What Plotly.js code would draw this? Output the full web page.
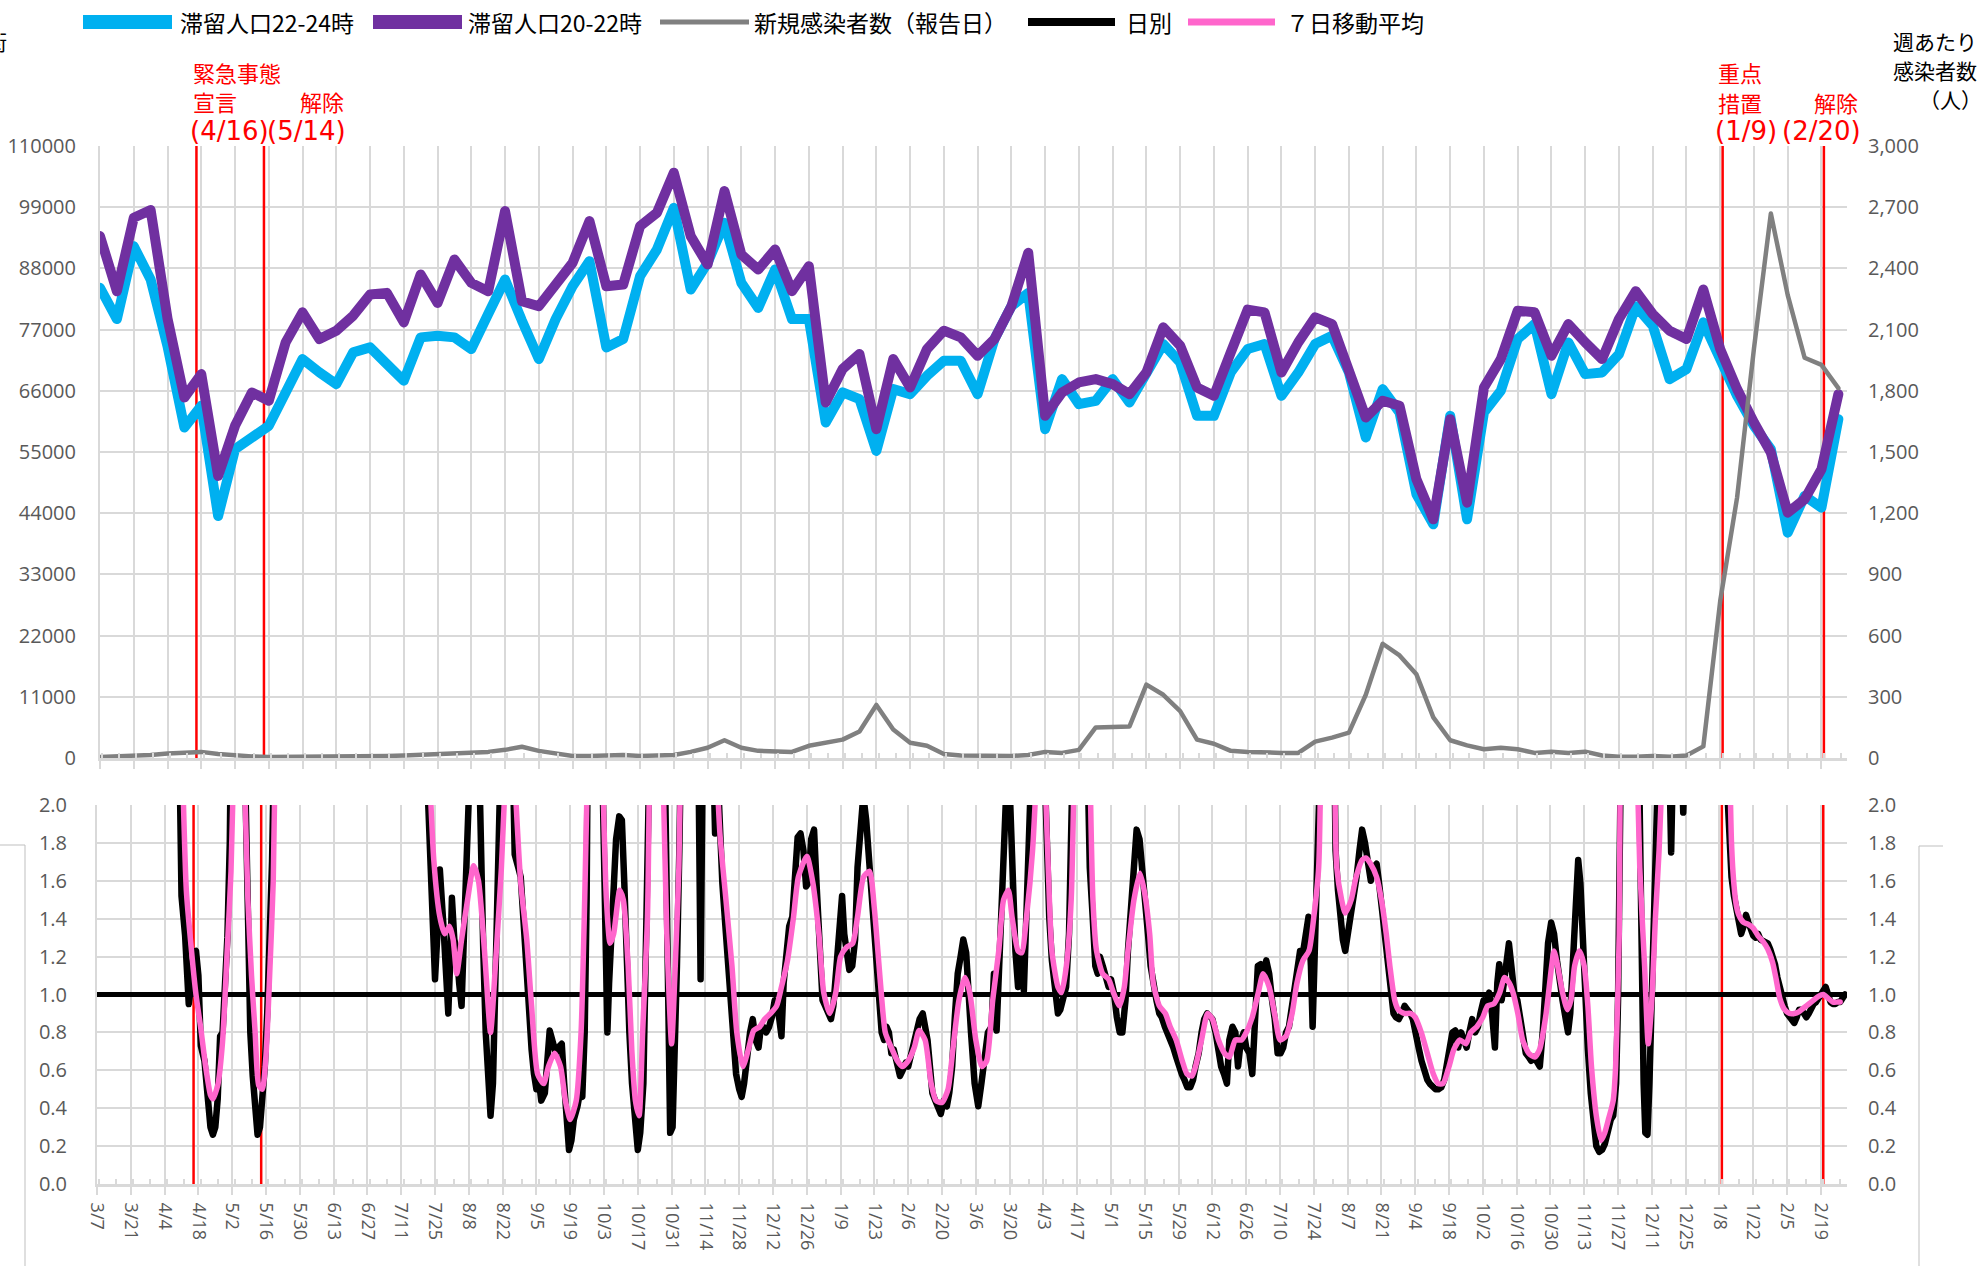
<!DOCTYPE html>
<html>
<head>
<meta charset="utf-8">
<script src="https://cdn.plot.ly/plotly-3.0.1.min.js"></script>
<style>
html,body{margin:0;padding:0;background:#fff;}
#chart{width:1987px;height:1266px;}
.js-line{stroke-linejoin:round !important;stroke-linecap:round !important;}
</style>
</head>
<body>
<div id="chart"></div>
<script>
// ---------------- DATA ----------------
const weekStart = '2020-03-07';  // first weekly point; daily offsets are counted from this day too

// 滞留人口22-24時 (weekly)
const stay2224 = [
84500,78900,92000,86000,74000,59400,63300,43500,55500,57600,
59700,65700,71700,69300,67200,72900,73800,70800,67800,75600,
75900,75600,73500,79800,86000,78600,71700,78900,84800,89300,
73800,75300,86600,91400,98900,84200,89000,96200,85400,80900,
87800,78900,78900,60300,65700,64500,55200,66300,65400,68700,
71400,71400,65400,75300,81200,83600,59100,68100,63600,64200,
68100,63900,69300,74400,71100,61500,61500,69300,73500,74400,
65100,69300,74400,75900,69300,57600,66300,62100,47400,42000,
61500,42900,62100,66000,75300,78000,65400,74700,69000,69300,
72600,81200,77700,68100,69900,78300,71700,65100,59700,55500,
40500,47100,45000,60900];

// 滞留人口20-22時 (weekly)
const stay2022 = [
93800,83900,97100,98500,79000,64800,69000,50700,59700,65700,
64200,74700,80100,75300,76800,79500,83300,83600,78300,86900,
81800,89600,85400,83900,98300,82100,81200,84800,89000,96500,
84800,85100,95600,98000,105200,93800,88700,101900,90500,87800,
91400,83900,88400,63900,69900,72600,59100,71700,66600,73500,
76800,75600,72300,75300,81200,90800,61500,65700,67500,68100,
67200,65400,69300,77400,74100,66600,65100,72900,80600,80100,
69300,74700,79200,78000,69300,61200,64200,63300,50100,42900,
60900,45900,66600,71700,80400,80100,72300,78000,74700,71700,
78900,83900,79800,76800,75300,84200,73500,66300,60300,54900,
44100,46500,51900,65400];

// 新規感染者数（報告日）週あたり
const weeklyCases = [
5,8,10,15,22,28,30,20,12,8,
5,5,5,5,5,6,8,10,12,15,
18,20,25,30,40,55,35,20,10,10,
12,15,10,12,15,30,50,87,50,35,
30,30,60,75,90,130,260,140,75,60,
20,12,10,8,10,15,30,25,40,150,
155,155,360,310,230,90,70,35,30,25,
25,25,80,100,124,310,560,503,410,199,
87,62,43,50,43,25,31,25,31,12,
6,6,10,6,12,57,770,1277,2007,2669,
2269,1962,1927,1813];

// 日別 : [days since weekStart, value]  (null = gap, 2.4 = beyond top of axis)
const rDaily = [
[34,2.4],[35,1.52],[36.5,1.31],[37.5,1.0],[38,0.95],[39,1.05],[40,1.22],[41,1.23],[42,1.1],[43,0.73],[44.5,0.65],[46,0.44],[47,0.3],[48,0.26],[49,0.3],[50,0.45],[51,0.78],[52,0.8],[53,1.05],[54,1.3],[55,1.8],[55.5,2.4],[58,null],
[61,2.4],[62.5,1.2],[63.5,0.8],[64.5,0.57],[65.5,0.35],[66.5,0.26],[67.5,0.3],[68.5,0.42],[69.5,0.62],[70.5,0.9],[71.5,1.3],[72.5,1.7],[73.5,2.4],[100,null],
[136,2.4],[138,1.76],[139,1.41],[140,1.08],[141,1.32],[142,1.66],[143.5,1.36],[144.5,1.04],[145.5,0.9],[146.5,1.25],[147,1.51],[148,1.29],[149,1.23],[150,1.06],[151,0.94],[152,1.32],[153,1.59],[154,1.76],[155,2.4],[156.5,null],
[158,2.4],[159,1.67],[160,1.23],[161,0.8],[162,0.53],[163,0.36],[164,0.53],[165,0.97],[166,1.67],[166.5,1.87],[167.5,2.4],[170,null],
[172,2.4],[173,1.74],[174.5,1.67],[175.5,1.62],[177,1.32],[178.5,0.94],[180,0.71],[181,0.58],[182,0.5],[183,0.55],[184,0.44],[185.5,0.48],[186.5,0.65],[187.5,0.81],[189,0.74],[190,0.69],[191,0.72],[192.5,0.74],[193.5,0.53],[194.5,0.32],[195.5,0.18],[196.5,0.23],[197.5,0.34],[199,0.41],[200,0.48],[201,0.46],[202,0.8],[202.8,1.5],[203.3,2.4],[206,null],
[209,2.4],[210,1.67],[210.7,1.06],[211.4,0.8],[212.1,1.06],[213,1.29],[214,1.5],[215,1.82],[216.3,1.94],[217.4,1.92],[218.4,1.59],[219.3,1.15],[220.5,0.8],[221.6,0.53],[222.8,0.34],[224,0.18],[225,0.27],[226.3,0.53],[227.2,1.15],[228,1.67],[229,2.4],[232,null],
[235,2.4],[235.8,1.5],[236.5,0.8],[237.4,0.27],[238.4,0.3],[239.3,0.62],[240.2,1.15],[241.2,1.76],[242,2.4],[245,null],
[249,2.4],[250,1.08],[251,2.4],[253,null],
[255,2.4],[256,1.85],[257,2.2],[258,1.8],[259,1.59],[260.5,1.32],[262,1.06],[263.5,0.8],[264.7,0.58],[266,0.5],[267,0.46],[268,0.53],[269.3,0.69],[270.5,0.8],[271.6,0.87],[272.8,0.76],[274,0.72],[275,0.83],[276,0.83],[277.2,0.8],[278.4,0.83],[279.5,0.88],[280.7,0.97],[281.6,0.94],[282.6,0.87],[283.5,0.78],[284.4,1.06],[285.6,1.23],[286.7,1.36],[288,1.41],[289,1.59],[290.2,1.83],[291.4,1.85],[292.6,1.76],[293.7,1.57],[294.7,1.59],[295.8,1.82],[297,1.87],[298,1.59],[299.3,1.23],[300.5,0.97],[301.6,0.94],[302.8,0.9],[304,0.87],[305,0.94],[306.3,1.15],[307.4,1.41],[308.6,1.52],[309.5,1.32],[310.5,1.2],[311.6,1.13],[312.8,1.15],[314,1.29],[315,1.67],[316.3,1.89],[317.4,2.05],[318.6,1.92],[319.8,1.71],[321,1.5],[322,1.36],[323,1.23],[324,0.97],[325,0.8],[326,0.76],[327,0.83],[328,0.8],[329,0.69],[330,0.71],[331.4,0.62],[332.6,0.57],[333.7,0.6],[335,0.64],[336,0.62],[337.2,0.69],[338.4,0.76],[339.5,0.83],[340.7,0.87],[342,0.9],[343,0.83],[344,0.76],[345,0.62],[346,0.48],[347.2,0.44],[348.4,0.41],[349.5,0.37],[350.7,0.44],[352,0.41],[353,0.48],[354.2,0.62],[355.3,0.88],[356.5,1.11],[357.7,1.2],[358.8,1.29],[360,1.22],[361,1.06],[362,0.8],[363.5,0.53],[365,0.41],[366.3,0.53],[367.7,0.71],[369,0.8],[370.5,0.83],[371.5,1.11],[372.6,0.81],[373.8,1.23],[374.7,1.5],[375.7,1.76],[377,2.2],[378,2.1],[379.2,1.5],[380.4,1.23],[381.5,1.04],[382.7,1.22],[383.9,1.02],[385,1.5],[386.2,1.85],[387.5,2.4],[390,null],
[392,2.4],[393.4,1.67],[394.4,1.41],[395.5,1.18],[396.7,1.01],[398,0.9],[399,0.92],[400.2,0.97],[401.4,1.04],[402.6,1.32],[403.5,1.59],[404.4,2.4],[407,null],
[410,2.4],[411.2,1.67],[412.4,1.41],[413.5,1.15],[414.5,1.11],[415.4,1.2],[416.6,1.15],[417.7,1.11],[419,1.04],[420,1.08],[421.2,1.01],[422.4,0.88],[423.6,0.8],[424.7,0.8],[426,0.97],[427,1.23],[428.3,1.5],[429.4,1.76],[430.6,1.87],[431.8,1.82],[433,1.67],[434,1.53],[435.3,1.32],[436.4,1.15],[437.6,1.04],[438.8,0.97],[440,0.9],[441,0.88],[442.3,0.83],[443.4,0.8],[444.6,0.76],[445.8,0.72],[447,0.67],[448,0.62],[449.3,0.58],[450.4,0.55],[451.6,0.51],[452.8,0.51],[454,0.55],[455,0.62],[456.3,0.69],[457.5,0.8],[458.6,0.87],[459.8,0.9],[461,0.88],[462,0.87],[463.3,0.8],[464.5,0.69],[465.6,0.62],[466.8,0.58],[468,0.53],[469,0.76],[470.3,0.83],[471.5,0.8],[472.6,0.62],[473.8,0.76],[475,0.8],[476,0.72],[477.3,0.69],[478.5,0.58],[479.7,0.88],[480.8,1.15],[482,1.16],[483.2,1.11],[484.3,1.18],[485.5,1.11],[486.7,0.97],[487.8,0.87],[489,0.69],[490.2,0.69],[491.3,0.72],[492.5,0.8],[493.7,0.83],[494.8,0.92],[496,1.01],[497.2,1.15],[498.3,1.23],[499.5,1.22],[500.7,1.32],[501.8,1.41],[502.8,1.15],[503.5,0.83],[504.4,1.23],[505.4,1.59],[506.3,1.85],[507,2.4],[510,null],
[512.4,2.4],[513,1.76],[514,1.55],[515,1.41],[516,1.29],[517,1.23],[518.2,1.32],[519.4,1.41],[520.5,1.5],[521.7,1.62],[522.9,1.76],[524,1.87],[525.2,1.8],[526.4,1.67],[527.6,1.6],[528.7,1.67],[530,1.69],[531,1.59],[532.2,1.45],[533.4,1.29],[534.6,1.15],[535.7,1.01],[537,0.9],[538,0.88],[539.2,0.87],[540.4,0.9],[541.6,0.94],[542.7,0.92],[544,0.9],[545,0.87],[546.2,0.81],[547.4,0.72],[548.6,0.65],[549.8,0.58],[551,0.55],[552,0.53],[553.3,0.51],[554.4,0.5],[555.6,0.5],[556.8,0.51],[558,0.55],[559,0.62],[560.3,0.69],[561.4,0.8],[562.6,0.81],[563.8,0.72],[565,0.8],[566,0.76],[567.3,0.72],[568.4,0.8],[569.6,0.87],[570.8,0.8],[572,0.83],[573,0.9],[574.3,0.97],[575.5,0.94],[576.6,1.01],[577.8,0.9],[579,0.72],[580,1.06],[580.8,1.16],[581.8,0.97],[582.7,1.04],[583.6,1.15],[584.8,1.27],[586,1.11],[587,1.01],[588.3,0.97],[589.5,0.87],[590.6,0.76],[591.8,0.69],[593,0.67],[594,0.65],[595.3,0.67],[596.5,0.64],[597.6,0.62],[598.8,0.8],[600,1.04],[601,1.27],[602.3,1.38],[603.5,1.32],[604.7,1.18],[605.8,1.06],[607,0.97],[608.2,0.88],[609.3,0.8],[610.2,0.9],[611,1.11],[612.3,1.41],[613.5,1.71],[614.4,1.59],[615.4,1.23],[616.3,0.97],[617.5,0.71],[618.7,0.48],[620,0.3],[621,0.2],[622.2,0.17],[623.4,0.18],[624.5,0.21],[625.7,0.28],[627,0.34],[628,0.36],[629.2,0.53],[630,0.97],[630.6,1.5],[631.3,2.4],[635,null],
[638.5,2.4],[639.2,1.5],[640,0.97],[640.6,0.53],[641.3,0.27],[642.2,0.26],[643,0.53],[644,0.97],[645,1.41],[646,1.76],[647,2.4],[649,null],
[651,2.4],[652,1.75],[653,2.4],[655,null],
[656,2.4],[657,1.96],[658,2.4],[665,null],
[674,2.4],[676,1.85],[677,1.62],[678,1.52],[679,1.45],[680,1.38],[681,1.32],[682,1.36],[683,1.42],[684,1.38],[685,1.33],[686,1.31],[687,1.3],[688,1.32],[689,1.29],[690,1.28],[691,1.27],[692,1.27],[693,1.24],[694,1.21],[695,1.16],[696,1.09],[697,1.03],[698,0.98],[699,0.94],[700,0.9],[701,0.88],[702,0.86],[703,0.85],[704,0.88],[705,0.92],[706,0.92],[707,0.9],[708,0.88],[709,0.9],[710,0.93],[711,0.95],[712,0.96],[713,0.98],[714,1.0],[715,1.03],[716,1.04],[717,1.0],[718,0.96],[719,0.95],[720,0.95],[721,0.96],[722,0.96],[723,0.98],[724,1.0]
];

// ７日移動平均 : [days since weekStart, value]
const rAvg7 = [
[35,2.4],[37,1.55],[39,1.25],[41,1.0],[43,0.82],[45,0.62],[47,0.47],[48,0.45],[50,0.52],[52,0.75],[54,1.25],[55.5,1.65],[57,2.4],[58.5,null],
[60.5,2.4],[62.5,1.5],[64,1.1],[65.5,0.8],[67,0.52],[68.5,0.5],[70,0.68],[71.5,1.1],[73,1.6],[74,2.4],[100,null],
[137,2.4],[139.5,1.71],[142,1.41],[144,1.32],[146,1.36],[147.5,1.29],[149,1.11],[151,1.29],[153.5,1.5],[156,1.68],[158,1.6],[160.5,1.23],[163,0.8],[165,1.15],[167.5,1.67],[170,2.4],[171,null],
[172,2.4],[175.5,1.59],[178,1.29],[180,0.94],[182.5,0.58],[185,0.53],[187,0.62],[189.5,0.69],[192,0.62],[194,0.44],[196,0.34],[198.5,0.44],[200.5,0.8],[202,1.5],[203.5,2.4],[206,null],
[209,2.4],[211,1.5],[212.5,1.27],[214,1.32],[216.5,1.55],[218,1.5],[220,1.15],[221.5,0.71],[223,0.44],[224.5,0.36],[226,0.8],[228,1.41],[229,2.4],[231,null],
[234,2.4],[236,1.32],[238,0.74],[239.5,1.15],[241,1.67],[242,2.4],[250,null],
[256,2.4],[258,1.85],[260.5,1.5],[263,1.15],[265,0.8],[267.5,0.62],[270,0.72],[272,0.81],[274.5,0.83],[276.5,0.87],[279,0.9],[281.5,0.94],[283.5,1.04],[286,1.18],[288.5,1.41],[290.5,1.62],[294,1.73],[296.5,1.59],[299,1.32],[301,1.01],[303.5,0.9],[306,1.01],[308,1.2],[310.5,1.25],[313,1.27],[315,1.41],[317.5,1.62],[320,1.65],[322,1.45],[324.5,1.06],[326.5,0.8],[329,0.72],[331.5,0.65],[333.5,0.62],[336,0.65],[338.5,0.72],[340.5,0.81],[343,0.76],[345.5,0.53],[347.5,0.44],[350,0.43],[352.5,0.5],[354.5,0.71],[357,0.97],[359.5,1.09],[361.5,1.01],[364,0.76],[366.5,0.62],[368.5,0.65],[371,0.97],[373.5,1.23],[375.5,1.5],[377.5,1.55],[379,1.41],[381.5,1.23],[383,1.22],[385,1.41],[387.5,1.76],[390,2.4],[391,null],
[392,2.4],[394,1.67],[395.5,1.23],[398,1.04],[399.5,1.01],[401.5,1.15],[403.5,1.5],[405,2.4],[408,null],
[411,2.4],[412.5,1.5],[414,1.23],[416.5,1.11],[419,1.08],[421,1.01],[423.5,0.94],[425.5,1.04],[427,1.23],[429.5,1.5],[432,1.64],[434,1.53],[436,1.32],[437.5,1.06],[440,0.94],[442.5,0.9],[444.5,0.83],[447,0.76],[449.5,0.65],[451.5,0.58],[453.5,0.57],[455,0.62],[457.5,0.76],[460,0.9],[462,0.87],[464.5,0.76],[467,0.69],[469,0.67],[471.5,0.76],[474,0.76],[476,0.8],[478.5,0.88],[481,1.01],[483,1.11],[485.5,1.04],[488,0.88],[490,0.76],[492.5,0.78],[495,0.9],[497,1.06],[499.5,1.18],[502,1.23],[504,1.41],[506,1.67],[507,2.4],[510,null],
[512.5,2.4],[513.5,1.67],[515.5,1.5],[517,1.43],[519.5,1.5],[521.5,1.62],[524,1.71],[525.5,1.72],[527.5,1.69],[530,1.62],[532,1.5],[534,1.32],[535.5,1.15],[537.5,0.97],[539,0.92],[541.5,0.9],[544,0.9],[546,0.88],[548.5,0.8],[551,0.69],[553.5,0.58],[555.5,0.53],[557.5,0.53],[560,0.62],[562,0.71],[564.5,0.76],[567,0.74],[569,0.8],[571.5,0.83],[574,0.88],[576,0.94],[578.5,0.95],[581,1.01],[583,1.09],[585,1.06],[586.5,1.01],[588.5,0.9],[590.5,0.76],[593,0.69],[595.5,0.67],[597.5,0.71],[600,0.88],[602.5,1.15],[603.5,1.23],[605,1.15],[607,1.01],[609,0.92],[610.5,0.97],[612,1.15],[614,1.23],[616,1.15],[617.5,0.94],[619,0.62],[621,0.36],[623,0.23],[624.5,0.27],[626,0.34],[628,0.44],[629,0.62],[630.5,1.32],[631,2.4],[634,null],
[637.5,2.4],[639,1.67],[641,1.15],[642.5,0.74],[644,0.97],[645.5,1.41],[647,1.76],[649,2.4],[660,null],
[676,2.4],[677,1.8],[678,1.58],[679,1.47],[680,1.42],[682,1.38],[684,1.37],[686,1.35],[688,1.31],[690,1.28],[692,1.24],[694,1.17],[695.5,1.08],[697,0.98],[699,0.92],[701,0.9],[703,0.9],[705,0.91],[707,0.93],[709,0.95],[711,0.97],[713,0.99],[715,1.0],[717,0.98],[719,0.96],[721,0.96],[722,0.96]
];

const refLevel = 1.0;
const eventDates = ['2020-04-16','2020-05-14','2022-01-09','2022-02-20'];
const eventLabels = [
  {lines:['緊急事態','宣言','(4/16)'], end:['解除','(5/14)']},
  {lines:['重点','措置','(1/9)'], end:['解除','(2/20)']}
];
const legendNames = ['滞留人口22-24時','滞留人口20-22時','新規感染者数（報告日）','日別','７日移動平均'];
const stayMax = 110000, casesMax = 3000, rMax = 2;

// ---------------- HELPERS ----------------
const DAY = 86400000;
const t0 = Date.parse(weekStart + 'T00:00:00Z');
function d2s(d){ const s = new Date(t0 + Math.round(d*DAY)).toISOString(); return s.slice(0,10)+' '+s.slice(11,19); }
const weekDates = stay2224.map((_, k) => d2s(7*k));
const dailyX = rDaily.map(p => d2s(p[0])), dailyY = rDaily.map(p => p[1]);
const avgX = rAvg7.map(p => d2s(p[0])), avgY = rAvg7.map(p => p[1]);

const W = 1987, H = 1266, ML = 97, MR = 140, MT = 146, MB = 82;
const PW = W - ML - MR, PH = H - MT - MB;
const px = x => (x - ML) / PW;
const py = y => (H - MB - y) / PH;

const topRange = ['2020-03-07 00:00:00', '2022-03-01 14:00:00'];
const botRange = ['2020-03-07 00:00:00', '2022-03-01 20:00:00'];

const C = {cyan:'#00b0f0', purple:'#7030a0', gray:'#808080', black:'#000000', pink:'#ff66cc', red:'#ff0000', grid:'#d9d9d9', tick:'#595959'};
const numFont = 'Open Sans, Noto Sans CJK JP, sans-serif';
const jpFont = 'Noto Sans CJK JP, sans-serif';

// ---------------- TRACES ----------------
const traces = [];
// event lines (drawn first so the data lines sit on top)
eventDates.forEach(d => {
  traces.push({x:[d, d], y:[0, stayMax], xaxis:'x', yaxis:'y', mode:'lines', line:{color:C.red, width:2.5}, name:d});
});
traces.push(
  {x: weekDates, y: stay2224, xaxis:'x', yaxis:'y', mode:'lines', name:legendNames[0], line:{color:C.cyan, width:10}},
  {x: weekDates, y: stay2022, xaxis:'x', yaxis:'y', mode:'lines', name:legendNames[1], line:{color:C.purple, width:10}},
  {x: weekDates, y: weeklyCases, xaxis:'x', yaxis:'y2', mode:'lines', name:legendNames[2], line:{color:C.gray, width:4.5}}
);
eventDates.forEach(d => {
  traces.push({x:[d, d], y:[0, rMax], xaxis:'x2', yaxis:'y3', mode:'lines', line:{color:C.red, width:2.5}, name:d});
});
traces.push(
  {x: botRange, y: [refLevel, refLevel], xaxis:'x2', yaxis:'y3', mode:'lines', name:'1.0', line:{color:C.black, width:5}},
  {x: dailyX, y: dailyY, xaxis:'x2', yaxis:'y4', mode:'lines', name:legendNames[3], connectgaps:false, line:{color:C.black, width:6.5}},
  {x: avgX, y: avgY, xaxis:'x2', yaxis:'y4', mode:'lines', name:legendNames[4], connectgaps:false, line:{color:C.pink, width:5.5, shape:'spline', smoothing:0.6}}
);

// ---------------- LAYOUT ----------------
const xCommon = {
  type:'date', tick0:weekStart, dtick:14*DAY,
  showgrid:true, gridcolor:C.grid, gridwidth:2,
  ticks:'outside', ticklen:8, tickwidth:2, tickcolor:C.grid,
  showline:true, linecolor:C.grid, linewidth:3, zeroline:false,
  minor:{dtick:7*DAY, ticks:'inside', ticklen:5, tickwidth:2, tickcolor:C.grid, showgrid:false}
};
const yTick = {size:20, color:C.tick, family:numFont};

const shapes = [];
const legendItems = [
  {x0:83, x1:172, tx:179, color:C.cyan, w:14},
  {x0:373, x1:462, tx:467, color:C.purple, w:14},
  {x0:660, x1:749, tx:753, color:C.gray, w:5},
  {x0:1028, x1:1115, tx:1125, color:C.black, w:8},
  {x0:1188, x1:1275, tx:1285, color:C.pink, w:7}
];
const LY = 22;
legendItems.forEach(it => {
  shapes.push({type:'line', layer:'above', xref:'paper', yref:'paper', x0:px(it.x0), x1:px(it.x1), y0:py(LY), y1:py(LY), line:{color:it.color, width:it.w}});
});
// cut-off side boxes
const boxC = '#bfbfbf';
shapes.push({type:'line', layer:'above', xref:'paper', yref:'paper', x0:px(25), x1:px(25), y0:py(845), y1:py(1270), line:{color:boxC, width:1}});
shapes.push({type:'line', layer:'above', xref:'paper', yref:'paper', x0:px(-2), x1:px(25), y0:py(845), y1:py(845), line:{color:boxC, width:1}});
shapes.push({type:'line', layer:'above', xref:'paper', yref:'paper', x0:px(1919), x1:px(1919), y0:py(846), y1:py(1270), line:{color:boxC, width:1}});
shapes.push({type:'line', layer:'above', xref:'paper', yref:'paper', x0:px(1919), x1:px(1943), y0:py(846), y1:py(846), line:{color:boxC, width:1}});

const annotations = [];
function ann(text, x, y, xanchor, font){
  annotations.push({text, x:px(x), y:py(y), xref:'paper', yref:'paper', xanchor, yanchor:'middle', showarrow:false, font, borderpad:0});
}
legendItems.forEach((it, i) => ann(legendNames[i], it.tx, LY, 'left', {size:23, color:'#000', family:jpFont}));

const redFont = {size:22, color:C.red, family:jpFont};
const redNum = {size:26, color:C.red, family:'DejaVu Sans, Noto Sans CJK JP, sans-serif'};
// 緊急事態宣言 / 解除
ann(eventLabels[0].lines[0], 192, 72, 'left', redFont);
ann(eventLabels[0].lines[1], 192, 101, 'left', redFont);
ann(eventLabels[0].lines[2], 189, 131, 'left', redNum);
ann(eventLabels[0].end[0], 345, 101, 'right', redFont);
ann(eventLabels[0].end[1], 347, 131, 'right', redNum);
// 重点措置 / 解除
ann(eventLabels[1].lines[0], 1717, 72, 'left', redFont);
ann(eventLabels[1].lines[1], 1717, 102, 'left', redFont);
ann(eventLabels[1].lines[2], 1714, 131, 'left', redNum);
ann(eventLabels[1].end[0], 1859, 102, 'right', redFont);
ann(eventLabels[1].end[1], 1862, 131, 'right', redNum);
// right axis caption
const capFont = {size:21, color:'#000', family:jpFont};
ann('週あたり', 1892, 41, 'left', capFont);
ann('感染者数', 1892, 70, 'left', capFont);
ann('（人）', 1950, 99, 'center', capFont);
// cut-off left caption
ann('繁華街', 8, 41, 'right', capFont);

const layout = {
  width:W, height:H,
  margin:{l:ML, r:MR, t:MT, b:MB, pad:0},
  paper_bgcolor:'#ffffff', plot_bgcolor:'#ffffff',
  showlegend:false, hovermode:false,
  xaxis: Object.assign({}, xCommon, {domain:[3/PW, 1], anchor:'y', range:topRange, showticklabels:false}),
  yaxis: {domain:[py(758), 1], anchor:'x', range:[0,stayMax], tick0:0, dtick:11000, tickformat:'d',
          showgrid:true, gridcolor:C.grid, gridwidth:2, zeroline:false, ticks:'',
          showline:true, linecolor:C.grid, linewidth:2, tickfont:yTick, ticklabelstandoff:18},
  yaxis2: {overlaying:'y', side:'right', anchor:'x', range:[0,casesMax], tick0:0, dtick:300, tickformat:',d',
           showgrid:false, zeroline:false, ticks:'', showline:false, tickfont:yTick, ticklabelstandoff:20},
  xaxis2: Object.assign({}, xCommon, {domain:[0,1], anchor:'y3', range:botRange, tickformat:'%-m/%-d', tickangle:90,
           tickfont:{size:18, color:C.tick, family:numFont}, ticklabelstandoff:4}),
  yaxis3: {domain:[0, py(805)], anchor:'x2', range:[0,rMax], tick0:0, dtick:0.2, tickformat:'.1f',
           showgrid:true, gridcolor:C.grid, gridwidth:2, zeroline:false, ticks:'',
           showline:true, linecolor:C.grid, linewidth:2, tickfont:yTick, ticklabelstandoff:24},
  yaxis4: {overlaying:'y3', side:'right', anchor:'x2', range:[0,rMax], tick0:0, dtick:0.2, tickformat:'.1f',
           showgrid:false, zeroline:false, ticks:'', showline:false, tickfont:yTick, ticklabelstandoff:20},
  shapes, annotations
};

Plotly.newPlot('chart', traces, layout, {displayModeBar:false, staticPlot:true});
</script>
</body>
</html>
